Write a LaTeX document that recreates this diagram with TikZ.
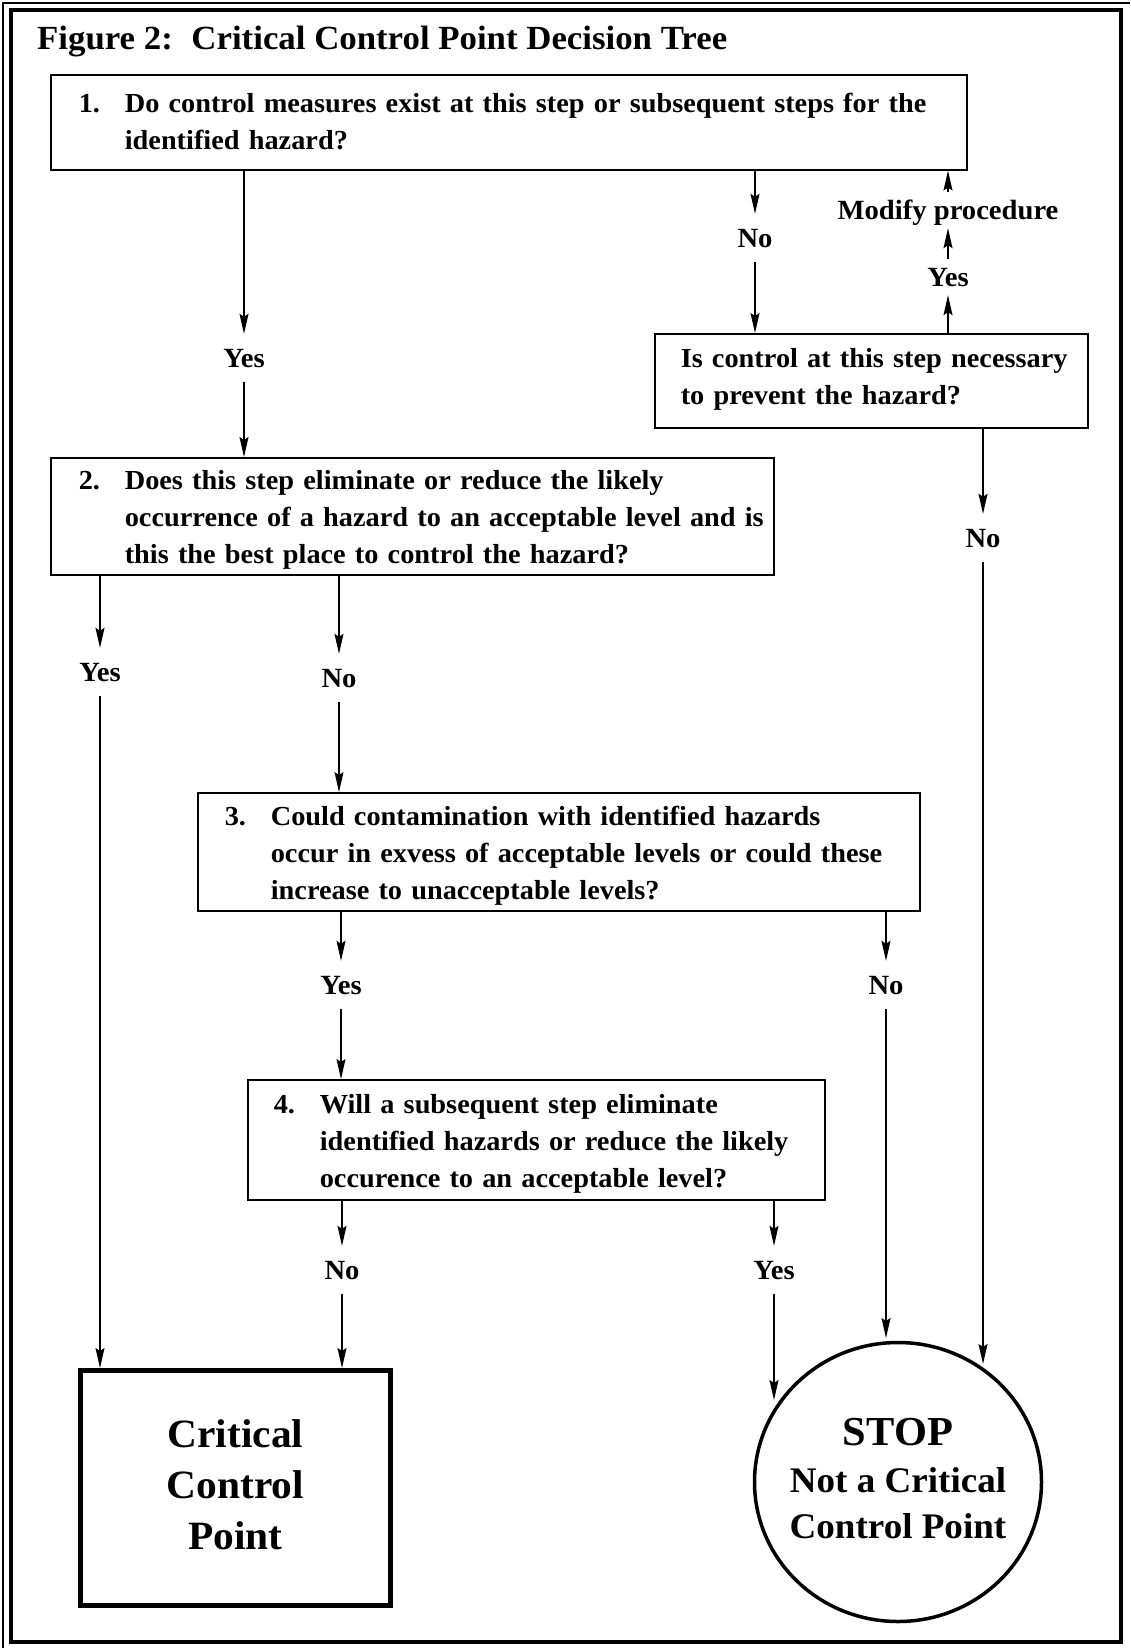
\documentclass[tikz,border=0pt]{standalone}
\usepackage{fontspec}
\setmainfont{Liberation Serif}[FakeStretch=1.03]
\usetikzlibrary{arrows.meta,shapes.geometric}
\newcommand{\lowertext}[2]{\raisebox{-#1}[\height][\depth]{#2}}
\begin{document}
\begin{tikzpicture}[x=1pt,y=-1pt,
  arr/.style={-{Stealth[length=20pt,width=9pt,inset=3pt]}, line width=1.2pt},
  qbox/.style={draw, line width=1.6pt, rectangle, anchor=north west, align=left,
    font=\fontsize{27.5}{37}\selectfont\bfseries, inner ysep=0pt},
  lbl/.style={font=\fontsize{27.8}{30}\selectfont\bfseries, text height=19pt, text depth=1pt,
    minimum height=48pt, inner sep=0pt},
  ulbl/.style={lbl, minimum height=36pt},
  endtext/.style={align=center, inner sep=0pt},
]
\useasboundingbox (0,0) rectangle (1130,1648);
\draw[line width=3.5pt] (11,10) rectangle (1121,1642);
\draw[line width=1.2pt] (3,1648) -- (3,3) -- (1130,3);

\node[anchor=base west, font=\fontsize{33.8}{36}\selectfont\bfseries, inner sep=0pt] (title) at (37,50)
  {Figure 2:\hspace{0.55em}Critical Control Point Decision Tree};

\node[qbox, inner xsep=28pt, text width=860pt, minimum height=95pt] (b1) at (50,74)
  {\lowertext{1.5pt}{\begin{tabular}{@{}p{46pt}@{}l@{}}1. & Do control measures exist at this step or subsequent steps for the\\
   & identified hazard?\end{tabular}}};

\node[qbox, inner xsep=26pt, text width=381pt, minimum height=94pt] (ic) at (654,333)
  {\lowertext{-2pt}{\begin{tabular}{@{}l@{}}Is control at this step necessary\\ to prevent the hazard?\end{tabular}}};

\node[qbox, inner xsep=28pt, text width=667pt, minimum height=117pt] (b2) at (50,457)
  {\lowertext{3pt}{\begin{tabular}{@{}p{46pt}@{}l@{}}2. & Does this step eliminate or reduce the likely\\
   & occurrence of a hazard to an acceptable level and is\\
   & this the best place to control the hazard?\end{tabular}}};

\node[qbox, inner xsep=27pt, text width=668pt, minimum height=118pt] (b3) at (197,792)
  {\lowertext{3pt}{\begin{tabular}{@{}p{46pt}@{}l@{}}3. & Could contamination with identified hazards\\
   & occur in exvess of acceptable levels or could these\\
   & increase to unacceptable levels?\end{tabular}}};

\node[qbox, inner xsep=26pt, text width=525pt, minimum height=120pt] (b4) at (247,1079)
  {\lowertext{3pt}{\begin{tabular}{@{}p{46pt}@{}l@{}}4. & Will a subsequent step eliminate\\
   & identified hazards or reduce the likely\\
   & occurence to an acceptable level?\end{tabular}}};

\node[draw, line width=5pt, minimum width=310pt, minimum height=235pt, inner sep=0pt] (ccp) at (235.5,1488) {};
\node[endtext, font=\fontsize{40.2}{51}\selectfont\bfseries] (ccptxt) at (235.5,1485) {Critical\\Control\\Point};

\node[draw, ellipse, line width=3.5pt, minimum width=287pt, minimum height=279pt, inner sep=0pt] (stop) at (898,1482) {};
\node[endtext, font=\fontsize{36}{46.5}\selectfont\bfseries] (stoptxt) at (898,1479)
  {{\fontsize{41.2}{46.5}\selectfont STOP}\\Not a Critical\\Control Point};

\node[lbl] (y1) at (244,358) {Yes};
\node[lbl] (n1) at (755,238) {No};
\node[ulbl] (y2) at (948,277) {Yes};
\node[ulbl] (mod) at (948,210) {Modify procedure};
\node[lbl] (n2) at (983,538) {No};
\node[lbl] (y3) at (100,672) {Yes};
\node[lbl] (n3) at (339,678) {No};
\node[lbl] (y4) at (341,985) {Yes};
\node[lbl] (n4) at (886,985) {No};
\node[lbl] (n5) at (342,1270) {No};
\node[lbl] (y5) at (774,1270) {Yes};

\coordinate (sA) at (983,1364);
\coordinate (sB) at (886,1338);
\coordinate (sC) at (774,1400);

\draw[arr] (y1 |- b1.south) -- (y1);
\draw[arr] (y1) -- (y1 |- b2.north);
\draw[arr] (n1 |- b1.south) -- (n1);
\draw[arr] (n1) -- (n1 |- ic.north);
\draw[arr] (y2 |- ic.north) -- (y2);
\draw[arr] (y2) -- (mod);
\draw[arr] (mod) -- (mod |- b1.south);
\draw[arr] (n2 |- ic.south) -- (n2);
\draw[arr] (n2) -- (sA);
\draw[arr] (y3 |- b2.south) -- (y3);
\draw[arr] (y3) -- (y3 |- ccp.north);
\draw[arr] (n3 |- b2.south) -- (n3);
\draw[arr] (n3) -- (n3 |- b3.north);
\draw[arr] (y4 |- b3.south) -- (y4);
\draw[arr] (y4) -- (y4 |- b4.north);
\draw[arr] (n4 |- b3.south) -- (n4);
\draw[arr] (n4) -- (sB);
\draw[arr] (n5 |- b4.south) -- (n5);
\draw[arr] (n5) -- (n5 |- ccp.north);
\draw[arr] (y5 |- b4.south) -- (y5);
\draw[arr] (y5) -- (sC);
\end{tikzpicture}
\end{document}
